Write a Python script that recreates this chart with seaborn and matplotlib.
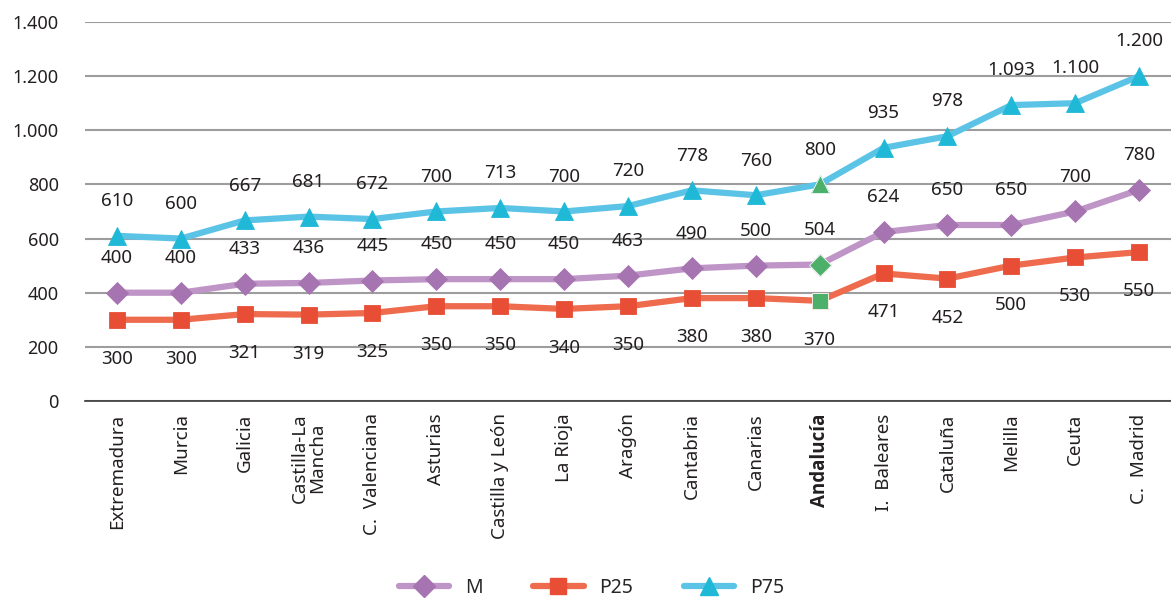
import numpy as np
import pandas as pd
import matplotlib
matplotlib.use("Agg")
import matplotlib.pyplot as plt
import seaborn as sns
from matplotlib.lines import Line2D
from matplotlib import font_manager

# Data
regions = ["Extremadura", "Murcia", "Galicia", "Castilla-La\nMancha", "C.  Valenciana",
           "Asturias", "Castilla y León", "La Rioja", "Aragón", "Cantabria", "Canarias",
           "Andalucía", "I.  Baleares", "Cataluña", "Melilla", "Ceuta", "C.  Madrid"]
m_vals = [400, 400, 433, 436, 445, 450, 450, 450, 463, 490, 500, 504, 624, 650, 650, 700, 780]
p25_vals = [300, 300, 321, 319, 325, 350, 350, 340, 350, 380, 380, 370, 471, 452, 500, 530, 550]
p75_vals = [610, 600, 667, 681, 672, 700, 713, 700, 720, 778, 760, 800, 935, 978, 1093, 1100, 1200]
highlight = "Andalucía"

sns.set_style("white")
plt.rcParams['font.family'] = ['Noto Sans', 'DejaVu Sans']

# find a family that really has a bold face for the highlighted label
bold_family = "DejaVu Sans"
for fam in ["Noto Sans", "Open Sans", "Lato", "Roboto"]:
    path = font_manager.findfont(font_manager.FontProperties(family=fam, weight="bold"),
                                 fallback_to_default=False)
    if "bold" in path.lower():
        bold_family = fam
        break

df = pd.DataFrame({"region": regions, "pos": np.arange(len(regions)),
                   "M": m_vals, "P25": p25_vals, "P75": p75_vals})

series = {
    "M": dict(line="#bf94c6", mark="#a674b0", marker="D", ms=11, off=25),
    "P25": dict(line="#ee6b4d", mark="#e84e35", marker="s", ms=12, off=-28),
    "P75": dict(line="#5bc4e6", mark="#1fb8d6", marker="^", ms=13, off=25),
}
green = "#4caf6a"

fig = plt.figure(figsize=(11.71, 5.99), dpi=100)
ax = fig.add_axes([0.0726, 0.3306, 0.9274, 0.6327])

hi = regions.index(highlight)
for name, s in series.items():
    sns.lineplot(data=df, x="pos", y=name, ax=ax, color=s["line"], linewidth=4.5,
                 marker=s["marker"], markersize=s["ms"], markerfacecolor=s["mark"],
                 markeredgecolor=s["mark"], markeredgewidth=0.6, zorder=3, solid_capstyle="round")
    ax.plot(df["pos"][hi], df[name][hi], marker=s["marker"], markersize=s["ms"],
            color=green, markeredgecolor="white", markeredgewidth=0.6, zorder=4, linestyle="none")
    for x, y in zip(df["pos"], df[name]):
        lbl = f"{y:,}".replace(",", ".")
        ax.annotate(lbl, (x, y), xytext=(0, s["off"]), textcoords="offset points",
                    ha="center", va="center", fontsize=13.5, color="#231f20")

ax.set_xlim(-0.5, len(regions) - 0.5)
ax.set_ylim(0, 1400)
ax.set_yticks(range(0, 1401, 200))
ax.set_yticklabels([f"{v:,}".replace(",", ".") for v in range(0, 1401, 200)],
                   fontsize=13, color="#231f20")
ax.yaxis.grid(True, color="#9d9d9f", linewidth=1.5)
ax.set_axisbelow(True)
ax.tick_params(axis="y", length=0, pad=19)

ax.set_xticks(df["pos"])
ax.set_xticklabels(regions, rotation=90, fontsize=13.5, color="#231f20",
                   va="top", ha="center", linespacing=0.9)
ax.tick_params(axis="x", which="major", length=0, pad=9)
ax.set_xticks(np.arange(0.5, len(regions) - 0.5), minor=True)
ax.tick_params(axis="x", which="minor", length=8, width=1, color="#3a3a3a", direction="out")

ax.set_xlabel("")
ax.set_ylabel("")
for sp in ["top", "right", "left"]:
    ax.spines[sp].set_visible(False)
ax.spines["bottom"].set_color("#3a3a3a")
ax.spines["bottom"].set_linewidth(1.2)

handles = [Line2D([0], [0], color=s["line"], linewidth=4.5, marker=s["marker"],
                  markersize=s["ms"], markerfacecolor=s["mark"], markeredgecolor=s["mark"],
                  solid_capstyle="round")
           for s in series.values()]
fig.legend(handles, list(series.keys()), loc="center", bbox_to_anchor=(0.505, 0.018),
           ncol=3, frameon=False, fontsize=14, handlelength=2.6, columnspacing=2.6,
           handletextpad=0.8)

fig.canvas.draw()
for t in ax.get_xticklabels():
    if t.get_text() == highlight:
        t.set_fontweight("bold")
        t.set_family([bold_family, "DejaVu Sans"])

fig.savefig("out.png", dpi=100)
